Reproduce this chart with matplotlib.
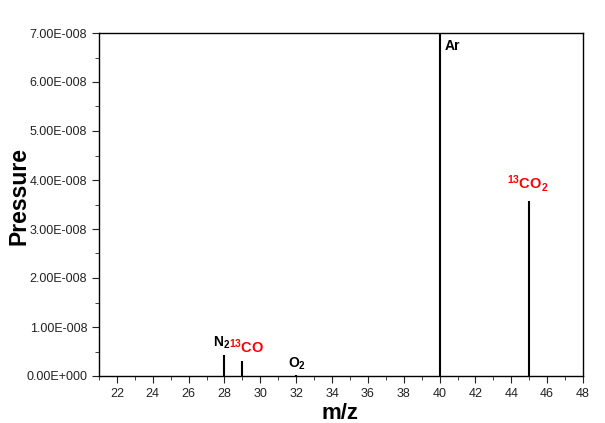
import matplotlib
matplotlib.use("Agg")
import matplotlib.pyplot as plt
from matplotlib.ticker import MultipleLocator, FuncFormatter

plt.rcParams['font.family'] = ['Liberation Sans', 'DejaVu Sans']
plt.rcParams['mathtext.fontset'] = 'custom'
plt.rcParams['mathtext.rm'] = 'Liberation Sans'
plt.rcParams['mathtext.bf'] = 'Liberation Sans:bold'
plt.rcParams['mathtext.it'] = 'Liberation Sans:italic'

mz = [28, 29, 32, 40, 45]
pressure = [0.43e-8, 0.31e-8, 0.02e-8, 7.5e-8, 3.57e-8]

fig = plt.figure(figsize=(6.05, 4.23), dpi=100)
ax = fig.add_axes([99/605, 1-376/423, (583-99)/605, (376-33)/423])

ax.vlines(mz, 0, pressure, colors='black', linewidth=1.5)

ax.set_xlim(21, 48)
ax.set_ylim(0, 7e-8)
ax.xaxis.set_major_locator(MultipleLocator(2))
ax.xaxis.set_minor_locator(MultipleLocator(1))
ax.yaxis.set_major_locator(MultipleLocator(1e-8))
ax.yaxis.set_minor_locator(MultipleLocator(0.5e-8))

def yfmt(v, pos):
    if abs(v) < 1e-20:
        return "0.00E+000"
    s = "%.2E" % v
    mant, ex = s.split("E")
    sign = ex[0]
    num = int(ex[1:])
    return "%sE%s%03d" % (mant, sign, num)

ax.yaxis.set_major_formatter(FuncFormatter(yfmt))
ax.tick_params(which='both', direction='out', top=False, right=False, labelsize=9, colors='#222222')
ax.tick_params(which='major', length=5)
ax.tick_params(which='minor', length=3)
for sp in ax.spines.values():
    sp.set_linewidth(1.0)

ax.set_xlabel("m/z", fontsize=16, fontweight='bold')
ax.set_ylabel("Pressure", fontsize=16.5, fontweight='bold')
ax.xaxis.set_label_coords((340-99)/484, -(403-376)/343)
ax.yaxis.set_label_coords(-(99-31)/484, (376-196)/343)

ax.text(40.3, 6.73e-8, "Ar", fontsize=10, fontweight='bold', ha='left', va='center')
ax.text(27.86, 0.67e-8, r"$\mathbf{N_2}$", fontsize=10, ha='center', va='center')
ax.text(29.25, 0.59e-8, r"$\mathbf{^{13}CO}$", fontsize=10.5, color='red', ha='center', va='center')
ax.text(32.04, 0.245e-8, r"$\mathbf{O_2}$", fontsize=10, ha='center', va='center')
ax.text(44.93, 3.92e-8, r"$\mathbf{^{13}CO_2}$", fontsize=10.5, color='red', ha='center', va='center')

fig.savefig("out.png", dpi=100)
